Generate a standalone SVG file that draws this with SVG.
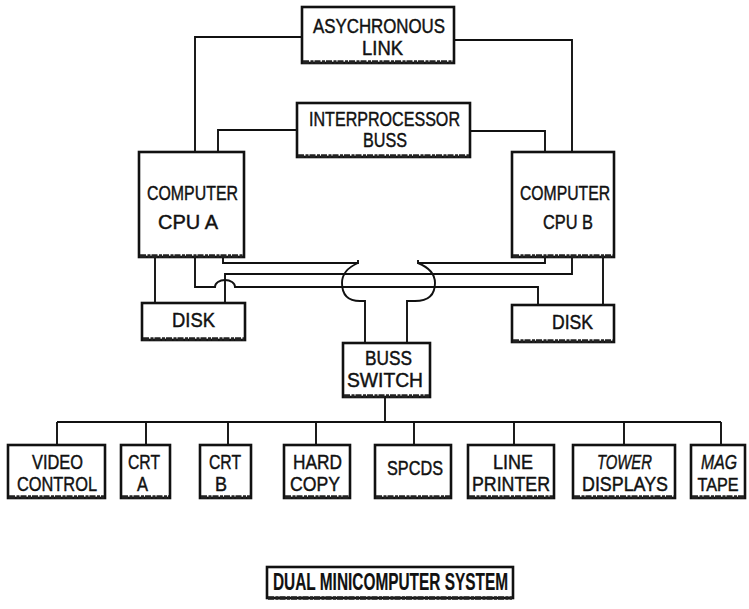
<svg xmlns="http://www.w3.org/2000/svg" width="749" height="609" viewBox="0 0 749 609">
<style>
.box{fill:#fff;stroke:#111;stroke-width:2.6}
.base{stroke:#222;stroke-width:3.5;stroke-dasharray:6 1.5 3 1}
.ln{fill:none;stroke:#111;stroke-width:1.9}
text{font-family:"Liberation Sans",Arial,sans-serif;fill:#111;stroke:#111;stroke-width:0.45}
.t19{font-size:19px}
.t20{font-size:20px}
.t21{font-size:21px}
.mid{text-anchor:middle}
.it{font-style:italic}
.title{font-size:24px;font-weight:bold;stroke-width:0.2}
</style>
<rect width="749" height="609" fill="#fff"/>
<g id="connectors">
<path class="ln" d="M302,37 H195 V152"/>
<path class="ln" d="M454,40 H572 V152"/>
<path class="ln" d="M297,130 H218 V152"/>
<path class="ln" d="M470,131 H545 V152"/>
<path class="ln" d="M155,257 V303"/>
<path class="ln" d="M603,257 V305"/>
<path class="ln" d="M195,257 V287 H215 A10,7 0 0 1 235,287 H538 V305"/>
<path class="ln" d="M225,303 V274 H572 V257"/>
<path class="ln" d="M223,257 V263 H358 V260"/>
<path class="ln" d="M545,257 V263 H418 V260"/>
<path class="ln" d="M358,263 Q342,270 342,283 Q342,301 360,301 H365 V343"/>
<path class="ln" d="M418,263 Q435,270 435,283 Q435,301 415,301 H407 V343"/>
<path class="ln" d="M385,397 V422"/>
<path class="ln" d="M57,422 H721"/>
<path class="ln" d="M57,422 V445 M146,422 V445 M228,422 V445 M316,422 V445 M414,422 V445 M514,422 V445 M624,422 V445 M721,422 V445"/>
</g>
<g id="async">
<rect class="box" x="302" y="7" width="152" height="56"/>
<line class="base" x1="303" y1="62" x2="453" y2="62"/>
<text class="t20" x="313" y="33" textLength="132" lengthAdjust="spacingAndGlyphs">ASYCHRONOUS</text>
<text class="t20" x="362" y="55" textLength="41" lengthAdjust="spacingAndGlyphs">LINK</text>
</g>
<g id="interproc">
<rect class="box" x="297" y="103" width="173" height="54"/>
<line class="base" x1="298" y1="156" x2="469" y2="156"/>
<text class="t20" x="309" y="126" textLength="151" lengthAdjust="spacingAndGlyphs">INTERPROCESSOR</text>
<text class="t20" x="363" y="147" textLength="44" lengthAdjust="spacingAndGlyphs">BUSS</text>
</g>
<g id="cpuA">
<rect class="box" x="139" y="152" width="105" height="105"/>
<line class="base" x1="140" y1="256" x2="243" y2="256"/>
<text class="t21" x="147" y="200" textLength="91" lengthAdjust="spacingAndGlyphs">COMPUTER</text>
<text class="t21" x="158" y="229" textLength="60" lengthAdjust="spacingAndGlyphs">CPU A</text>
</g>
<g id="cpuB">
<rect class="box" x="512" y="152" width="102" height="105"/>
<line class="base" x1="513" y1="256" x2="613" y2="256"/>
<text class="t21" x="520" y="200" textLength="90" lengthAdjust="spacingAndGlyphs">COMPUTER</text>
<text class="t21" x="543" y="229" textLength="50" lengthAdjust="spacingAndGlyphs">CPU B</text>
</g>
<g id="diskA">
<rect class="box" x="142" y="303" width="103" height="37"/>
<line class="base" x1="143" y1="339" x2="244" y2="339"/>
<text class="t21" x="172" y="327" textLength="43" lengthAdjust="spacingAndGlyphs">DISK</text>
</g>
<g id="diskB">
<rect class="box" x="512" y="305" width="102" height="37"/>
<line class="base" x1="513" y1="341" x2="613" y2="341"/>
<text class="t21" x="552" y="329" textLength="41" lengthAdjust="spacingAndGlyphs">DISK</text>
</g>
<g id="bussSwitch">
<rect class="box" x="343" y="343" width="87" height="54"/>
<line class="base" x1="344" y1="396" x2="429" y2="396"/>
<text class="t20" x="365" y="365" textLength="47" lengthAdjust="spacingAndGlyphs">BUSS</text>
<text class="t20" x="347" y="387" textLength="76" lengthAdjust="spacingAndGlyphs">SWITCH</text>
</g>
<g id="video">
<rect class="box" x="8" y="445" width="97" height="53"/>
<line class="base" x1="9" y1="497" x2="104" y2="497"/>
<text class="t21" x="32" y="469" textLength="51" lengthAdjust="spacingAndGlyphs">VIDEO</text>
<text class="t21" x="17" y="491" textLength="80" lengthAdjust="spacingAndGlyphs">CONTROL</text>
</g>
<g id="crtA">
<rect class="box" x="121" y="445" width="49" height="53"/>
<line class="base" x1="122" y1="497" x2="169" y2="497"/>
<text class="t21" x="128" y="469" textLength="32" lengthAdjust="spacingAndGlyphs">CRT</text>
<text class="t21" x="137" y="491" textLength="11" lengthAdjust="spacingAndGlyphs">A</text>
</g>
<g id="crtB">
<rect class="box" x="200" y="445" width="51" height="53"/>
<line class="base" x1="201" y1="497" x2="250" y2="497"/>
<text class="t21" x="209" y="469" textLength="32" lengthAdjust="spacingAndGlyphs">CRT</text>
<text class="t21" x="215" y="491" textLength="12" lengthAdjust="spacingAndGlyphs">B</text>
</g>
<g id="hardCopy">
<rect class="box" x="284" y="445" width="66" height="53"/>
<line class="base" x1="285" y1="497" x2="349" y2="497"/>
<text class="t21" x="293" y="469" textLength="49" lengthAdjust="spacingAndGlyphs">HARD</text>
<text class="t21" x="290" y="491" textLength="50" lengthAdjust="spacingAndGlyphs">COPY</text>
</g>
<g id="spcds">
<rect class="box" x="375" y="445" width="76" height="53"/>
<line class="base" x1="376" y1="497" x2="450" y2="497"/>
<text class="t21" x="387" y="475" textLength="56" lengthAdjust="spacingAndGlyphs">SPCDS</text>
</g>
<g id="linePrinter">
<rect class="box" x="468" y="445" width="86" height="53"/>
<line class="base" x1="469" y1="497" x2="553" y2="497"/>
<text class="t21" x="493" y="469" textLength="40" lengthAdjust="spacingAndGlyphs">LINE</text>
<text class="t21" x="472" y="491" textLength="78" lengthAdjust="spacingAndGlyphs">PRINTER</text>
</g>
<g id="towerDisplays">
<rect class="box" x="573" y="445" width="102" height="53"/>
<line class="base" x1="574" y1="497" x2="674" y2="497"/>
<text class="t21 it" x="597" y="469" textLength="55" lengthAdjust="spacingAndGlyphs">TOWER</text>
<text class="t21" x="582" y="491" textLength="86" lengthAdjust="spacingAndGlyphs">DISPLAYS</text>
</g>
<g id="magTape">
<rect class="box" x="691" y="445" width="54" height="53"/>
<line class="base" x1="692" y1="497" x2="744" y2="497"/>
<text class="t21 it mid" x="719" y="469" textLength="36" lengthAdjust="spacingAndGlyphs">MAG</text>
<text class="t19 mid" x="718" y="491" textLength="41" lengthAdjust="spacingAndGlyphs">TAPE</text>
</g>
<g id="title">
<rect class="box" x="267" y="567" width="246" height="31"/>
<line class="base" x1="268" y1="598" x2="512" y2="598"/>
<text class="title" x="273" y="590" textLength="235" lengthAdjust="spacingAndGlyphs">DUAL MINICOMPUTER SYSTEM</text>
</g>
</svg>
